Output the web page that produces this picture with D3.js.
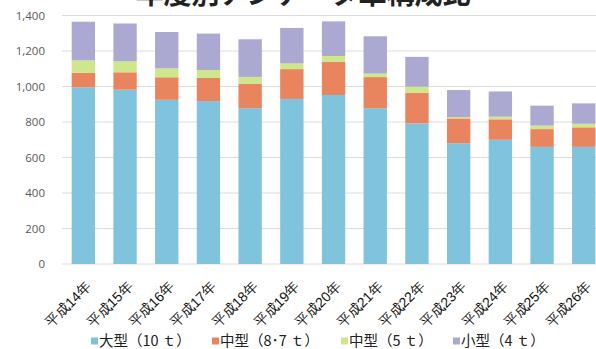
<!DOCTYPE html>
<html><head><meta charset="utf-8">
<script src="https://cdn.jsdelivr.net/npm/d3@7"></script>
<style>
html,body{margin:0;padding:0;background:#fff;}
svg{display:block;font-family:"Noto Sans CJK JP","Noto Sans",sans-serif;}
</style></head>
<body>
<svg id="chart" width="596" height="349"></svg>
<script>
const title = "年度別アジテータ車構成比";
const categories = ["平成14年","平成15年","平成16年","平成17年","平成18年","平成19年","平成20年","平成21年","平成22年","平成23年","平成24年","平成25年","平成26年"];
const seriesNames = ["大型（10 ｔ）","中型（8･7 ｔ）","中型（5 ｔ）","小型（4 ｔ）"];
const large10t  = [995, 982, 925, 918, 878, 930, 952, 878, 792, 680, 700, 660, 660];
const medium87t = [ 82,  98, 127, 130, 138, 168, 188, 175, 173, 140, 115, 100, 110];
const medium5t  = [ 70,  62,  50,  45,  38,  32,  32,  20,  34,   8,  15,  20,  20];
const small4t   = [218, 213, 205, 205, 212, 200, 195, 210, 168, 152, 142, 112, 115];
const yTicks = [0,200,400,600,800,1000,1200,1400];
const colors = ["#7fc3dc","#e8845e","#cde78a","#aba8d2"];

const svg = d3.select("#chart");
const x = d3.scaleBand().domain(categories).range([62.5, 604.6]).paddingInner(0.44).paddingOuter(0.22);
const y = d3.scaleLinear().domain([0,1400]).range([264, 15.5]);

// title (clipped at top, as in the reference)
svg.append("text").attr("x", 303).attr("y", 4).attr("text-anchor","middle")
  .attr("font-size", 28).attr("font-weight","bold").attr("fill","#222").text(title);

// gridlines
svg.append("g").selectAll("line").data(yTicks).join("line")
  .attr("x1", 62).attr("x2", 596).attr("y1", d=>y(d)).attr("y2", d=>y(d))
  .attr("stroke", "#dcdcdc").attr("stroke-width", 1);

// y axis labels
const yAxis = d3.axisLeft(y).tickValues(yTicks).tickFormat(d3.format(",")).tickSize(0).tickPadding(0);
const ya = svg.append("g").attr("transform","translate(45,0)").call(yAxis);
ya.select(".domain").remove();
ya.selectAll("text").attr("font-size", 11.5).attr("fill","#595959")
  .attr("font-family","'Open Sans','Noto Sans',sans-serif");

// stacked data
const rows = categories.map((c,i)=>({cat:c, s0:large10t[i], s1:medium87t[i], s2:medium5t[i], s3:small4t[i]}));
const stack = d3.stack().keys(["s0","s1","s2","s3"])(rows);
svg.append("g").selectAll("g").data(stack).join("g").attr("fill",(d,i)=>colors[i])
  .selectAll("rect").data(d=>d).join("rect")
  .attr("x", d=>x(d.data.cat)).attr("width", x.bandwidth())
  .attr("y", d=>y(d[1])).attr("height", d=>y(d[0])-y(d[1]));

// x axis labels rotated
const xAxis = d3.axisBottom(x).tickSize(0).tickPadding(0);
const xa = svg.append("g").attr("transform","translate(0,270)").call(xAxis);
xa.select(".domain").remove();
xa.selectAll("text").attr("font-size", 14).attr("fill","#111")
  .attr("text-anchor","end").attr("dy","0.35em")
  .attr("transform","translate(5,14) rotate(-45)");

// legend
const legendX = [91, 212, 341, 453];
const lg = svg.append("g").selectAll("g").data(seriesNames).join("g")
  .attr("transform",(d,i)=>`translate(${legendX[i]},341)`);
lg.append("rect").attr("x",0).attr("y",-3.5).attr("width",7).attr("height",7).attr("fill",(d,i)=>colors[i]);
lg.append("text").attr("x",8).attr("y",0).attr("dy","0.36em").attr("font-size",14.5).attr("fill","#222").text(d=>d);
</script>
</body></html>
